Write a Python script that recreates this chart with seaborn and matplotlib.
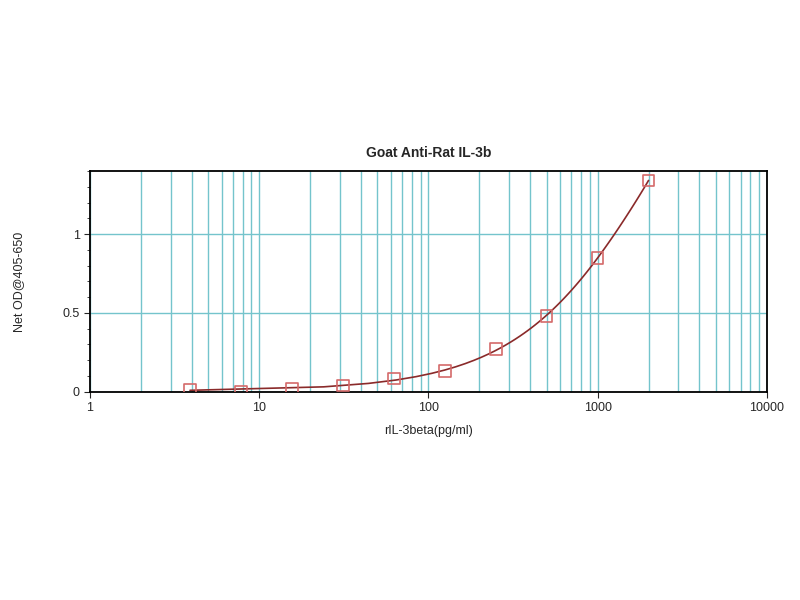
import matplotlib
matplotlib.use("Agg")
import matplotlib.pyplot as plt
import matplotlib.ticker as mticker
import seaborn as sns
import pandas as pd

# standard curve readings
conc = [3.9, 7.8, 15.6, 31.25, 62.5, 125, 250, 500, 1000, 2000]
od = [0.012, 0.003, 0.022, 0.040, 0.085, 0.13, 0.27, 0.48, 0.85, 1.34]
df = pd.DataFrame({"conc": conc, "od": od})

sns.set_style("white")
plt.rcParams["font.family"] = ["Liberation Sans", "DejaVu Sans"]

fig = plt.figure(figsize=(8, 6), dpi=100)
ax = fig.add_axes([0.1125, 0.347, 0.846, 0.368])
ax.set_xscale("log")

grid_col = "#74c4cc"
ax.xaxis.set_minor_locator(mticker.LogLocator(base=10, subs=range(2, 10), numticks=20))
ax.yaxis.set_minor_locator(mticker.MultipleLocator(0.1))
ax.grid(True, which="both", axis="x", color=grid_col, lw=1.0)
ax.grid(True, which="major", axis="y", color=grid_col, lw=1.0)

# fitted curve
sns.regplot(x="conc", y="od", data=df, order=3, ci=None, scatter=False,
            line_kws={"color": "#8a2a2a", "lw": 1.2}, ax=ax)
# data points
sns.scatterplot(x="conc", y="od", data=df, marker="s", s=70,
                facecolor="none", edgecolor="#d46a6a", linewidth=1.2, ax=ax, zorder=5)

ax.set_xlim(1, 10000)
ax.set_ylim(0, 1.4)
ax.set_yticks([0, 0.5, 1])
ax.yaxis.set_major_formatter(mticker.FuncFormatter(lambda v, p: f"{v:g}"))
ax.xaxis.set_major_formatter(mticker.FuncFormatter(lambda v, p: f"{v:g}"))
ax.xaxis.set_minor_formatter(mticker.NullFormatter())

ax.tick_params(axis="both", which="major", length=4, labelsize=9, left=True, bottom=True)
ax.tick_params(axis="y", which="minor", length=2, left=True)
ax.tick_params(axis="x", which="minor", length=0)
for s in ax.spines.values():
    s.set_color("black")
    s.set_linewidth(1.3)

ax.set_xlabel("rIL-3beta(pg/ml)", fontsize=9, labelpad=8)
ax.set_ylabel("Net OD@405-650", fontsize=9, labelpad=27)
ax.set_title("Goat Anti-Rat IL-3b", fontsize=10, fontweight="bold", pad=10)

fig.savefig("out.png", dpi=100)
